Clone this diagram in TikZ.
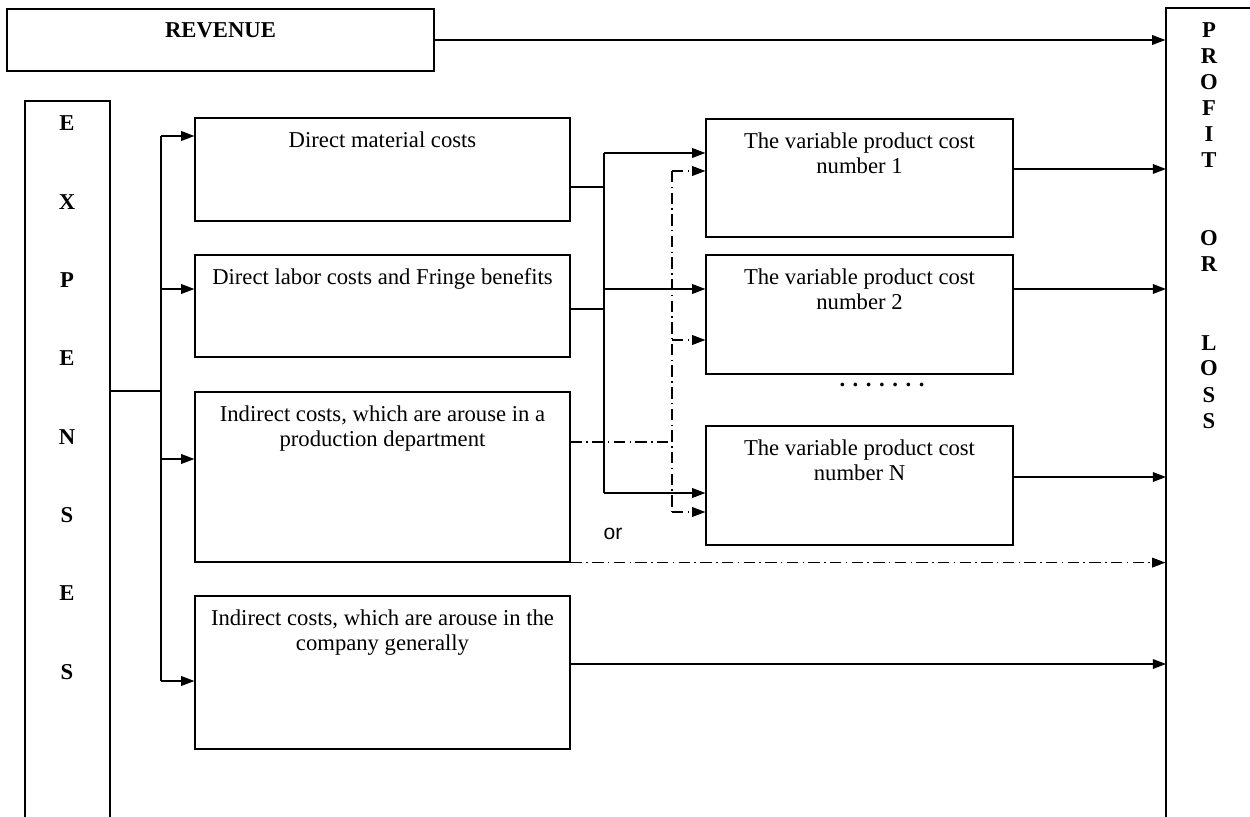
\documentclass[tikz,border=0pt]{standalone}
\usepackage{fontspec}
\setmainfont{Liberation Serif}
\newfontfamily\orfont{Liberation Sans}
\usepackage{tikz}
\usetikzlibrary{arrows.meta}
\usetikzlibrary{positioning}
\tikzset{
  box/.style={draw, line width=0.7pt, inner sep=0pt},
  lbl/.style={align=center, inner sep=0pt, font=\fontsize{12.9}{14.74}\selectfont},
  letter/.style={inner sep=0pt, anchor=base, font=\fontsize{12.9}{14.74}\selectfont\bfseries},
  arr/.style={-{Triangle[length=7.5pt,width=5.5pt]}},
  dd/.style={dash pattern=on 6.5pt off 2.5pt on 0.8pt off 2.5pt}
}
\newcommand{\plainbox}[5]{\node[box, minimum width={(#4-#2)*0.02cm}, minimum height={(#5-#3)*0.02cm}] (#1) at ({(#2+#4)/2},{(#3+#5)/2}) {};}
\newcommand{\costbox}[6]{\plainbox{#1}{#2}{#3}{#4}{#5} \node[lbl, anchor=north, below=7.6pt of #1.north] (#1txt) {#6};}
\begin{document}
\begin{tikzpicture}[x=0.02cm, y=-0.02cm, line width=0.7pt]
        \useasboundingbox (0,0) rectangle (1250,817);
        \clip (0,0) rectangle (1250,817);
        % big boxes
        \costbox{revenue}{7}{9}{434}{71}{\textbf{REVENUE}}
        \plainbox{expenses}{25}{101}{110}{860}
        \plainbox{profit}{1166}{8}{1300}{860}
        \foreach \l/\k in {E/0,X/1,P/2,E/3,N/4,S/5,E/6,S/7}
          \node[letter] (ex\k) at (67,{131+78.3*\k}) {\l};
        \foreach \l/\k in {P/0,R/1,O/2,F/3,I/4,T/5,O/8,R/9,L/12,O/13,S/14,S/15}
          \node[letter] (pl\k) at (1209,{38+26*\k}) {\l};
        % cost boxes
        \costbox{dmc}{195}{118}{570}{221}{Direct material costs}
        \costbox{dlc}{195}{255}{570}{357}{Direct labor costs and Fringe benefits}
        \costbox{ipd}{195}{392}{570}{562}{Indirect costs, which are arouse in a\\production department}
        \costbox{icg}{195}{596}{570}{749}{Indirect costs, which are arouse in the\\company generally}
        % product cost boxes
        \costbox{vpc1}{706}{119}{1013}{237}{The variable product cost\\number 1}
        \costbox{vpc2}{706}{255}{1013}{374}{The variable product cost\\number 2}
        \costbox{vpcn}{706}{426}{1013}{545}{The variable product cost\\number N}
        \node[lbl, anchor=base] (dots) at (882,386) {\textbf{. . . . . . .}};
        \node[inner sep=0pt, anchor=base, font=\orfont\fontsize{12}{14}\selectfont] (or) at (613,539) {or};
        % revenue
        \draw[arr] (revenue.east) -- (revenue.east -| profit.west);
        % expenses bus
        \coordinate (ebus) at (161,391);
        \draw (expenses.east |- ebus) -- (ebus);
        \foreach \b/\yy [count=\n] in {dmc/136,dlc/289,ipd/459,icg/681}{
          \coordinate (e\n) at (161,\yy);
          \draw[arr] (e\n) -- (e\n -| \b.west);
        }
        \draw (e1) -- (e4);
        % direct costs
        \coordinate (m1) at (604,187);
        \coordinate (m2) at (604,309);
        \draw (dmc.east |- m1) -- (m1);
        \draw (dlc.east |- m2) -- (m2);
        \foreach \b/\yy [count=\n] in {vpc1/153,vpc2/289,vpcn/493}{
          \coordinate (t\n) at (604,\yy);
          \draw[arr] (t\n) -- (t\n -| \b.west);
        }
        \draw (t1) -- (t3);
        % indirect costs
        \coordinate (d0) at (672,442);
        \draw[dd] (ipd.east |- d0) -- (d0);
        \foreach \b/\yy [count=\n] in {vpc1/171,vpc2/340,vpcn/512}{
          \coordinate (d\n) at (672,\yy);
          \draw[arr, dd] (d\n) -- (d\n -| \b.west);
        }
        \draw[dd] (d1) -- (d3);
        \draw[arr, dd] (ipd.south east) -- (ipd.south east -| profit.west);
        % to profit or loss
        \foreach \b/\yy [count=\n] in {vpc1/169,vpc2/289,vpcn/477,icg/664}{
          \coordinate (r\n) at (1166,\yy);
          \draw[arr] (\b.east |- r\n) -- (r\n);
        }
    \end{tikzpicture}
\end{document}
